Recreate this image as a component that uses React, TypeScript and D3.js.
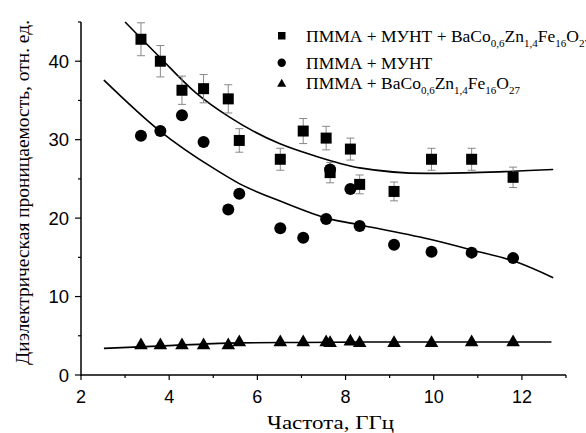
import React from 'react';
import * as d3 from 'd3';

const width = 586;
const height = 433;
const margin = { top: 22, right: 20, bottom: 58, left: 81 };

// frequency, GHz (same points for all three samples)
const freq = [3.36, 3.8, 4.29, 4.78, 5.34, 5.59, 6.52, 7.04, 7.56, 7.65, 8.11, 8.32, 9.1, 9.95, 10.86, 11.8];

// ПММА + МУНТ + BaCo0,6Zn1,4Fe16O27
const epsFull = [42.8, 40.0, 36.3, 36.5, 35.2, 29.9, 27.5, 31.1, 30.2, 25.8, 28.8, 24.3, 23.4, 27.5, 27.5, 25.2];
const errFull = [2.1, 2.0, 1.8, 1.8, 1.8, 1.5, 1.4, 1.6, 1.5, 1.3, 1.4, 1.2, 1.2, 1.4, 1.4, 1.3];
// ПММА + МУНТ
const epsCnt = [30.5, 31.1, 33.1, 29.7, 21.1, 23.1, 18.7, 17.5, 19.9, 26.2, 23.7, 19.0, 16.6, 15.7, 15.6, 14.9];
// ПММА + BaCo0,6Zn1,4Fe16O27
const epsFerr = [3.9, 3.9, 3.9, 3.9, 3.9, 4.3, 4.3, 4.3, 4.3, 4.2, 4.4, 4.2, 4.2, 4.2, 4.3, 4.3];

// fitted curves
const fitFullX = [3.0, 3.77, 4.6, 5.36, 6.5, 7.26, 8.32, 9.83, 10.89, 12.71];
const fitFullY = [45.0, 40.6, 36.0, 32.9, 29.5, 28.0, 26.4, 25.7, 25.8, 26.2];
const fitCntX = [2.52, 3.77, 5.02, 5.59, 6.6, 7.64, 8.36, 9.91, 10.89, 11.88, 12.71];
const fitCntY = [37.6, 31.2, 26.3, 24.4, 22.0, 19.9, 19.1, 17.3, 15.9, 14.4, 12.4];
const fitFerrX = [2.52, 4.0, 5.59, 7.0, 8.5, 12.67];
const fitFerrY = [3.4, 3.75, 4.1, 4.15, 4.2, 4.2];

const xTicks = [2, 3, 4, 5, 6, 7, 8, 9, 10, 11, 12, 13];
const yTicks = [0, 5, 10, 15, 20, 25, 30, 35, 40, 45];

const serif = { fontFamily: '"Liberation Serif"' };
const sans = { fontFamily: '"Liberation Sans"' };

const x = d3.scaleLinear().domain([2, 13]).range([margin.left, width - margin.right]);
const y = d3.scaleLinear().domain([0, 45]).range([height - margin.bottom, margin.top]);

const line = (xs: number[], ys: number[]) =>
  d3.line<number>()
    .x((_, i) => x(xs[i]))
    .y((d) => y(d))
    .curve(d3.curveMonotoneX)(ys) || '';

const tri = d3.symbol().type(d3.symbolTriangle).size(80)() || '';
const triSmall = d3.symbol().type(d3.symbolTriangle).size(36)() || '';

const Formula = ({ prefix }: { prefix: string }) => (
  <>
    {prefix}BaCo
    <tspan fontSize={11} dy={5}>0,6</tspan>
    <tspan dy={-5}>Zn</tspan>
    <tspan fontSize={11} dy={5}>1,4</tspan>
    <tspan dy={-5}>Fe</tspan>
    <tspan fontSize={11} dy={5}>16</tspan>
    <tspan dy={-5}>O</tspan>
    <tspan fontSize={11} dy={5}>27</tspan>
  </>
);

export default function App() {
  const y0 = height - margin.bottom;
  return (
    <svg width={width} height={height} style={{ position: 'absolute', left: 0, top: 0, background: '#fff' }}>
      {/* axes */}
      <line x1={x(2)} x2={x(13)} y1={y0} y2={y0} stroke="#000" strokeWidth={1.5} />
      <line x1={x(2)} x2={x(2)} y1={y(45)} y2={y0 + 1} stroke="#000" strokeWidth={1.5} />
      {xTicks.map((t) => (
        <g key={'x' + t}>
          <line x1={x(t)} x2={x(t)} y1={y0} y2={y0 + (t % 2 === 0 ? 5 : 3)} stroke="#000" strokeWidth={1.2} />
          {t % 2 === 0 && (
            <text x={x(t)} y={y0 + 28} textAnchor="middle" style={sans} fontSize={18}>{t}</text>
          )}
        </g>
      ))}
      {yTicks.map((t) => (
        <g key={'y' + t}>
          <line x1={x(2) - (t % 10 === 0 ? 6 : 3)} x2={x(2)} y1={y(t)} y2={y(t)} stroke="#000" strokeWidth={1.2} />
          {t % 10 === 0 && (
            <text x={x(2) - 12} y={y(t) + 6.5} textAnchor="end" style={sans} fontSize={18.5}>{t}</text>
          )}
        </g>
      ))}
      <text x={267} y={429} style={serif} fontSize={19.5} textLength={127} lengthAdjust="spacingAndGlyphs">
        Частота, ГГц
      </text>
      <text transform={`translate(29,${192.5}) rotate(-90)`} textAnchor="middle" style={serif} fontSize={19.5}
        textLength={345} lengthAdjust="spacingAndGlyphs">
        Диэлектрическая проницаемость, отн. ед.
      </text>

      {/* fits */}
      <path d={line(fitFullX, fitFullY)} fill="none" stroke="#000" strokeWidth={1.6} />
      <path d={line(fitCntX, fitCntY)} fill="none" stroke="#000" strokeWidth={1.6} />
      <path d={line(fitFerrX, fitFerrY)} fill="none" stroke="#000" strokeWidth={1.6} />

      {/* error bars */}
      {freq.map((f, i) => (
        <g key={'e' + i} stroke="#888" strokeWidth={1}>
          <line x1={x(f)} x2={x(f)} y1={y(epsFull[i] + errFull[i])} y2={y(epsFull[i] - errFull[i])} />
          <line x1={x(f) - 4} x2={x(f) + 4} y1={y(epsFull[i] + errFull[i])} y2={y(epsFull[i] + errFull[i])} />
          <line x1={x(f) - 4} x2={x(f) + 4} y1={y(epsFull[i] - errFull[i])} y2={y(epsFull[i] - errFull[i])} />
        </g>
      ))}

      {/* markers */}
      {freq.map((f, i) => (
        <rect key={'s' + i} x={x(f) - 5.5} y={y(epsFull[i]) - 5.5} width={11} height={11} fill="#000" />
      ))}
      {freq.map((f, i) => (
        <circle key={'c' + i} cx={x(f)} cy={y(epsCnt[i])} r={6} fill="#000" />
      ))}
      {freq.map((f, i) => (
        <path key={'t' + i} d={tri} transform={`translate(${x(f)},${y(epsFerr[i]) + 1})`} fill="#000" />
      ))}

      {/* legend */}
      <rect x={278} y={32} width={7.5} height={7.5} fill="#000" />
      <circle cx={281.7} cy={62.7} r={4.2} fill="#000" />
      <path d={triSmall} transform="translate(281.7,84)" fill="#000" />
      <text x={306} y={42} style={serif} fontSize={17.5}>
        <Formula prefix="ПММА + МУНТ + " />
      </text>
      <text x={306} y={69} style={serif} fontSize={17.5}>ПММА + МУНТ</text>
      <text x={306} y={89} style={serif} fontSize={17.5}>
        <Formula prefix="ПММА + " />
      </text>
    </svg>
  );
}
